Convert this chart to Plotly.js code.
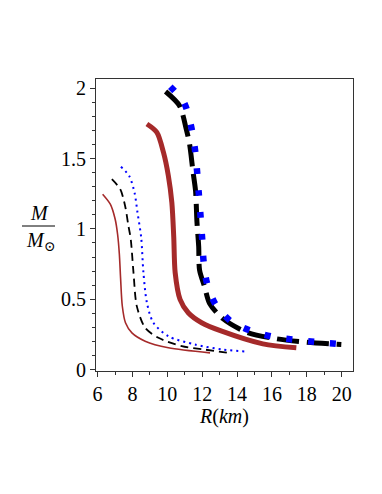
<!DOCTYPE html>
<html>
<head>
<meta charset="utf-8">
<script src="https://cdn.plot.ly/plotly-3.0.1.min.js"></script>
<style>
  html, body { margin: 0; padding: 0; background: #fff; }
  #plot { width: 382px; height: 494px; }
</style>
</head>
<body>
<div id="plot"></div>
<script>
// mass-radius curves (R in km, M in solar masses)
const rThinRed = [6.29, 6.73, 7.01, 7.15, 7.25, 7.32, 7.42, 7.6, 7.97, 8.73, 10.06, 12.45];
const mThinRed = [1.246, 1.175, 1.068, 0.96, 0.82, 0.65, 0.45, 0.333, 0.261, 0.202, 0.155, 0.119];

const rThinBlack = [6.82, 7.3, 7.58, 7.77, 7.9, 8.06, 8.25, 8.73, 9.49, 10.83, 12.16, 13.47];
const mThinBlack = [1.353, 1.282, 1.163, 1.021, 0.93, 0.689, 0.451, 0.297, 0.226, 0.166, 0.142, 0.119];

const rThinBlue = [7.34, 7.81, 8.12, 8.29, 8.5, 8.63, 8.83, 9.2, 10.06, 11.59, 13.2, 14.43];
const mThinBlue = [1.441, 1.377, 1.258, 1.116, 0.94, 0.689, 0.475, 0.333, 0.237, 0.178, 0.142, 0.129];

const rThickRed = [8.83, 9.4, 9.78, 10.06, 10.26, 10.37, 10.45, 10.73, 11.2, 11.97, 13.12, 15.48, 17.4];
const mThickRed = [1.745, 1.686, 1.543, 1.377, 1.187, 0.94, 0.689, 0.499, 0.404, 0.333, 0.273, 0.183, 0.155];

const rThickBlack = [9.9, 10.7, 11.09, 11.28, 11.47, 11.62, 11.7, 11.8, 11.85, 12.14, 12.43, 13.19, 14.53, 16.25, 17.97, 19.98];
const mThickBlack = [1.976, 1.875, 1.707, 1.6, 1.41, 1.27, 1.05, 0.874, 0.707, 0.588, 0.469, 0.362, 0.267, 0.219, 0.195, 0.179];

const rThickBlue = [10.17, 10.95, 11.34, 11.57, 11.7, 11.8, 11.9, 12.0, 12.08, 12.27, 12.77, 13.65, 14.84, 16.08, 17.38, 18.66, 19.98];
const mThickBlue = [2.01, 1.9, 1.743, 1.58, 1.42, 1.26, 1.1, 0.93, 0.77, 0.617, 0.462, 0.343, 0.274, 0.233, 0.211, 0.195, 0.181];

const xTicks = [6, 8, 10, 12, 14, 16, 18, 20];
const yTicks = [0, 0.5, 1, 1.5, 2];

const serif = "Liberation Serif, DejaVu Serif, serif";

function curve(x, y, color, width, dash) {
  return {
    x: x,
    y: y,
    type: "scatter",
    mode: "lines",
    line: {
      color: color,
      width: width,
      dash: dash,
      shape: "spline",
      smoothing: 0.8
    },
    hoverinfo: "skip",
    showlegend: false
  };
}

const traces = [
  curve(rThinRed, mThinRed, "#a52a2a", 1.6, "solid"),
  curve(rThinBlack, mThinBlack, "#000000", 1.8, "8px,5px"),
  curve(rThinBlue, mThinBlue, "#0000ff", 2, "2px,4px"),
  curve(rThickRed, mThickRed, "#a52a2a", 5, "solid"),
  curve(rThickBlack, mThickBlack, "#000000", 5, "22px,8px"),
  curve(rThickBlue, mThickBlue, "#0000ff", 6.5, "6px,16px")
];

const layout = {
  width: 382,
  height: 494,
  margin: { l: 96, r: 29, t: 79, b: 123 },
  paper_bgcolor: "#ffffff",
  plot_bgcolor: "#ffffff",
  font: { family: serif, size: 20, color: "#000" },
  showlegend: false,
  xaxis: {
    range: [5.91, 20.65],
    tickvals: xTicks,
    ticks: "outside",
    ticklen: 5,
    tickcolor: "#333",
    tickfont: { family: serif, size: 20 },
    showgrid: false,
    zeroline: false,
    showline: true,
    mirror: true,
    linecolor: "#333",
    linewidth: 1,
    minor: { dtick: 1, ticks: "outside", ticklen: 3, tickcolor: "#333", showgrid: false },
    title: { text: "<i>R</i>(<i>km</i>)", font: { family: serif, size: 20 }, standoff: 0 }
  },
  yaxis: {
    range: [-0.01, 2.065],
    tickvals: yTicks,
    ticktext: ["0", "0.5", "1", "1.5", "2"],
    ticks: "outside",
    ticklen: 5,
    tickcolor: "#333",
    tickfont: { family: serif, size: 20 },
    showgrid: false,
    zeroline: false,
    showline: true,
    mirror: true,
    linecolor: "#333",
    linewidth: 1,
    minor: { dtick: 0.1, ticks: "outside", ticklen: 3, tickcolor: "#333", showgrid: false }
  },
  shapes: [
    {
      type: "line",
      xref: "paper",
      yref: "paper",
      x0: (22 - 96) / 257,
      x1: (55 - 96) / 257,
      y0: (371 - 226) / 292,
      y1: (371 - 226) / 292,
      line: { color: "#000", width: 1 }
    }
  ],
  annotations: [
    {
      text: "<i>M</i>",
      xref: "paper",
      yref: "paper",
      x: (39 - 96) / 257,
      y: (371 - 213) / 292,
      xanchor: "center",
      yanchor: "middle",
      showarrow: false,
      font: { family: serif, size: 20 }
    },
    {
      text: "<i>M</i><sub>⊙</sub>",
      xref: "paper",
      yref: "paper",
      x: (40 - 96) / 257,
      y: (371 - 241) / 292,
      xanchor: "center",
      yanchor: "middle",
      showarrow: false,
      font: { family: serif, size: 20 }
    }
  ]
};

Plotly.newPlot("plot", traces, layout, { staticPlot: true });
</script>
</body>
</html>
